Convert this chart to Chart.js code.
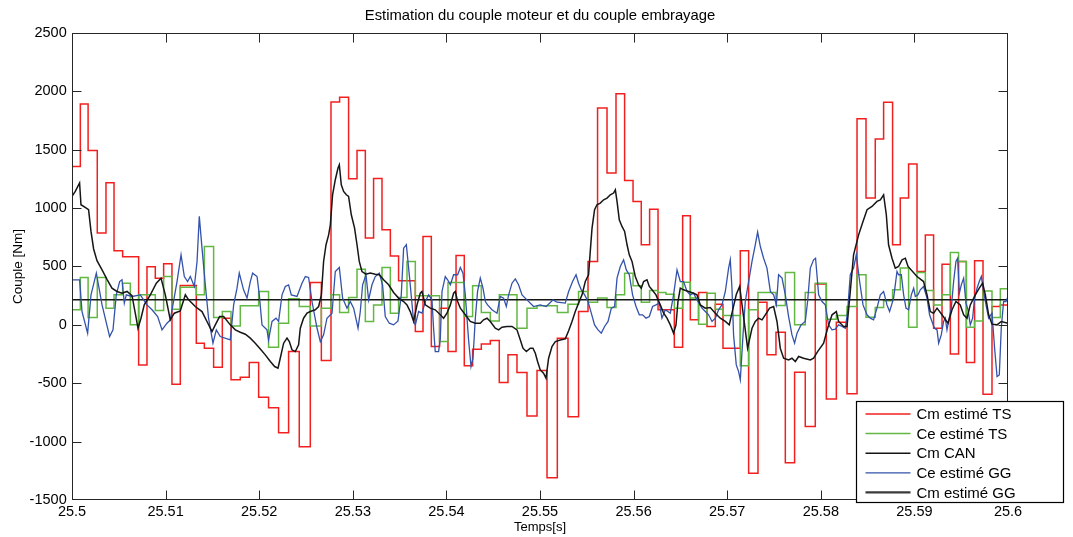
<!DOCTYPE html>
<html>
<head>
<meta charset="utf-8">
<script src="https://cdn.jsdelivr.net/npm/chart.js@4.4.1/dist/chart.umd.min.js"></script>
<style>
    html, body { margin: 0; padding: 0; background: #fff; }
</style>
</head>
<body>
<canvas id="couple" width="1073" height="537"></canvas>
<script>
// step instants of the TS estimator (s) and the two TS estimates (Nm)
const tsTime = [25.5, 25.50089, 25.50172, 25.5027, 25.50363, 25.50449, 25.50541, 25.50623, 25.50712, 25.50801,
    25.5089, 25.50979, 25.51068, 25.51157, 25.51328, 25.51414, 25.51513, 25.51606, 25.51699, 25.51798,
    25.51894, 25.51994, 25.521, 25.52207, 25.52314, 25.52428, 25.52546, 25.52664, 25.52767, 25.52859,
    25.52955, 25.53045, 25.53134, 25.53222, 25.53312, 25.53401, 25.53489, 25.53579, 25.53668, 25.5375,
    25.53839, 25.53927, 25.54017, 25.54103, 25.54191, 25.5428, 25.54373, 25.54469, 25.54565, 25.54658,
    25.54754, 25.54861, 25.54968, 25.55075, 25.55185, 25.55299, 25.55412, 25.55513, 25.55615, 25.55716,
    25.55812, 25.55904, 25.55994, 25.56082, 25.56171, 25.56261, 25.56346, 25.56435, 25.56524, 25.56606,
    25.56694, 25.56784, 25.56873, 25.56955, 25.57051, 25.5714, 25.57229, 25.57329, 25.57425, 25.57521,
    25.57621, 25.5772, 25.57834, 25.57941, 25.58059, 25.58166, 25.5828, 25.58387, 25.58483, 25.58582,
    25.58671, 25.58767, 25.58849, 25.58938, 25.59028, 25.59117, 25.59205, 25.59295, 25.59384, 25.59472,
    25.59555, 25.59643, 25.59733, 25.59829, 25.59918, 25.6];
const cmTS = [1357, 1891, 1494, 786, 1217, 634, 583, 583, -343, 497,
    400, 523, -509, 337, -157, -200, -363, 57, -471, -449,
    -323, -620, -709, -923, -229, -1043, 363, -306, 1909, 1949,
    1251, 1494, 743, 1254, 814, 589, 377, 377, -57, 757,
    -186, 143, -229, 594, -351, -209, -163, -134, -494, -257,
    -409, -780, -391, -1309, -115, -786, 114, 543, 1857, 1300,
    1980, 1237, 1057, 686, 991, 129, 129, -191, 934, 43,
    277, -14, 177, -200, -200, 634, -1271, 194, -257, -63,
    -1180, -406, -871, 349, -634, 23, -591, 1766, 1086, 1591,
    1906, 686, 1086, 1377, 457, 769, -29, 520, -249, 543,
    -323, 549, -594, 157, 171, -157];
const ceTS = [129, 406, 63, 406, 143, 257, 357, 0, 257, 257,
    123, 414, 134, 323, 257, 671, 63, 114, -9, 163,
    163, 286, -191, 14, 223, 157, -9, 143, 257, 106,
    234, 477, 29, 171, 491, 100, 234, 543, 249, 249,
    249, -143, 363, 363, 71, 334, 106, 34, 257, 257,
    -29, 143, 163, 163, 106, 177, 286, 194, 229, 149,
    257, 443, 334, 194, 294, 277, 263, 143, 366, 229,
    6, 271, 134, 80, 80, -351, 129, 277, 277, 166,
    449, 0, 277, 357, 49, 80, 157, 429, 66, 149,
    206, 300, 486, -20, 449, 294, 171, 257, 620, 543,
    -20, 34, 291, 63, 309, 457];

// GG estimator, Ce
const ceGGTime = [25.5, 25.50081, 25.50107, 25.50167, 25.50203, 25.5026, 25.50321, 25.50402, 25.50438, 25.50473,
    25.50509, 25.50534, 25.50559, 25.5058, 25.50641, 25.5073, 25.50801, 25.50855, 25.50915, 25.50962,
    25.51015, 25.5105, 25.51122, 25.51165, 25.512, 25.51235, 25.51264, 25.51307, 25.51336, 25.5136,
    25.51389, 25.51424, 25.51459, 25.51506, 25.51542, 25.51584, 25.51691, 25.51727, 25.51763, 25.51787,
    25.51833, 25.5187, 25.51905, 25.5193, 25.51977, 25.52001, 25.5203, 25.52083, 25.521, 25.52137,
    25.5218, 25.52207, 25.52244, 25.52279, 25.52314, 25.52343, 25.52404, 25.52457, 25.52493, 25.52528,
    25.52564, 25.52618, 25.52653, 25.52688, 25.52724, 25.52778, 25.52813, 25.52856, 25.52891, 25.52938,
    25.52973, 25.53009, 25.53056, 25.5308, 25.53105, 25.53141, 25.53169, 25.53205, 25.5324, 25.53283,
    25.53318, 25.53347, 25.5339, 25.53436, 25.53483, 25.53518, 25.53543, 25.53572, 25.53607, 25.5365,
    25.53668, 25.53703, 25.53739, 25.53775, 25.5381, 25.53846, 25.53863, 25.53881, 25.53917, 25.53935,
    25.53953, 25.53988, 25.54013, 25.54042, 25.54077, 25.5412, 25.54149, 25.54177, 25.54202, 25.54237,
    25.54263, 25.54284, 25.54309, 25.54333, 25.54362, 25.54391, 25.54416, 25.5444, 25.54487, 25.54541,
    25.54576, 25.54611, 25.5464, 25.54665, 25.54701, 25.54736, 25.54771, 25.54808, 25.54861, 25.54932,
    25.55003, 25.55067, 25.55139, 25.55182, 25.5527, 25.55306, 25.55348, 25.55385, 25.55412, 25.55441,
    25.55477, 25.55513, 25.55548, 25.55583, 25.5562, 25.55655, 25.5569, 25.55727, 25.55762, 25.55797,
    25.55823, 25.55858, 25.55893, 25.55922, 25.55954, 25.55989, 25.56026, 25.56061, 25.56096, 25.56133,
    25.56168, 25.56203, 25.56239, 25.56275, 25.56303, 25.56339, 25.56392, 25.56427, 25.56464, 25.56499,
    25.56534, 25.56571, 25.56606, 25.56641, 25.56677, 25.56731, 25.56766, 25.56801, 25.56838, 25.56873,
    25.56908, 25.56944, 25.5698, 25.57015, 25.57033, 25.57051, 25.57068, 25.57097, 25.57122, 25.5714,
    25.57169, 25.57193, 25.57229, 25.57265, 25.573, 25.57325, 25.57354, 25.57389, 25.57425, 25.57461,
    25.57496, 25.57525, 25.57549, 25.57586, 25.57621, 25.57656, 25.57692, 25.5772, 25.57746, 25.57789,
    25.57834, 25.57859, 25.57888, 25.57923, 25.57944, 25.57977, 25.58013, 25.58048, 25.58083, 25.5812,
    25.58155, 25.5819, 25.58227, 25.58262, 25.58286, 25.58315, 25.5835, 25.58379, 25.58415, 25.58451,
    25.58494, 25.58529, 25.58564, 25.586, 25.58636, 25.58671, 25.58707, 25.58735, 25.58778, 25.58814,
    25.58831, 25.5886, 25.58885, 25.5891, 25.58938, 25.58967, 25.58992, 25.5901, 25.59038, 25.59063,
    25.59098, 25.59135, 25.59162, 25.59194, 25.59216, 25.59242, 25.59259, 25.59287, 25.59312, 25.5933,
    25.59348, 25.59365, 25.59394, 25.59419, 25.59444, 25.59462, 25.5948, 25.59501, 25.59526, 25.59551,
    25.59573, 25.59597, 25.59622, 25.59643, 25.59669, 25.59693, 25.59715, 25.59739, 25.59765, 25.59793,
    25.59829, 25.59857, 25.59883, 25.59907, 25.59928, 25.59953, 25.59979, 25.6];
const ceGG = [386, 386, 114, -71, 257, 443, 171, -100, -43, 257,
    371, 386, 186, 257, 243, 257, 171, 129, 71, -43,
    14, 43, 371, 600, 414, 371, 414, 329, 543, 929,
    657, 343, 57, -157, -43, -100, -129, 171, 314, 443,
    300, 229, 371, 443, 414, 257, 0, -43, -129, 29,
    57, 29, 257, 329, 343, 257, 243, 357, 414, 406,
    200, -29, -143, -86, 57, 100, 457, 491, 229, 143,
    200, 143, -29, 114, 343, 429, 214, 343, 414, 443,
    343, 71, 14, 0, 34, 257, 657, 686, 400, 29,
    0, 114, 100, 200, 257, 214, -29, -229, -229, -114,
    286, 414, 386, 343, 429, 429, 491, 443, 257, -129,
    -357, -286, 57, 286, 400, 314, 200, 171, 129, 100,
    243, 229, 157, 257, 357, 394, 343, 257, 214, 157,
    171, 157, 214, 194, 186, 286, 371, 429, 357, 300,
    257, 200, 100, 0, -43, -71, -14, 29, 143, 157,
    400, 500, 557, 471, 429, 257, 157, 86, 86, 57,
    71, 157, 171, 186, 57, 129, 100, 257, 471, 371,
    371, 286, 257, 271, 214, 143, 114, 86, 29, 57,
    129, 171, 286, 486, 557, 314, -86, -343, -400, -471,
    -86, 200, 371, 543, 686, 794, 671, 571, 486, 286,
    257, 171, 429, 400, 257, 71, -86, -157, -71, 0,
    29, 200, 486, 557, 571, 257, 200, 171, 0, -43,
    -37, 0, -14, -29, 114, 429, 486, 600, 371, 171,
    86, 57, 43, 143, 257, 286, 171, 114, 229, 457,
    429, 429, 257, 143, 129, 257, 314, 243, 257, 300,
    329, 229, 86, 14, -29, -43, -157, -86, 29, 57,
    -43, 29, 143, 371, 543, 571, 271, 343, 400, 186,
    129, 0, 57, 229, 314, 371, 414, 286, 171, 57,
    100, -200, -443, -429, -29, 200, 200, 243];

// GG estimator, Cm
const cmGGTime = [25.5, 25.50035, 25.50081, 25.50096, 25.50153, 25.50177, 25.50203, 25.50231, 25.50267, 25.50321,
    25.50374, 25.50427, 25.50481, 25.50534, 25.50588, 25.50641, 25.50676, 25.50705, 25.50737, 25.50772,
    25.50837, 25.50901, 25.50951, 25.50997, 25.5105, 25.51093, 25.51157, 25.51211, 25.51246, 25.51317,
    25.51389, 25.51442, 25.51496, 25.51531, 25.51577, 25.5162, 25.51691, 25.51745, 25.51798, 25.51852,
    25.51905, 25.51958, 25.52012, 25.52065, 25.52119, 25.52165, 25.52201, 25.52225, 25.52261, 25.52297,
    25.52322, 25.5235, 25.52386, 25.52421, 25.52439, 25.52474, 25.52511, 25.52546, 25.52599, 25.52635,
    25.52664, 25.52688, 25.52714, 25.52742, 25.5276, 25.52784, 25.52813, 25.52842, 25.52856, 25.52877,
    25.52902, 25.52931, 25.52955, 25.52984, 25.53019, 25.53045, 25.53069, 25.53098, 25.53141, 25.53187,
    25.5324, 25.53283, 25.53329, 25.53383, 25.53436, 25.53489, 25.53543, 25.53579, 25.53614, 25.5365,
    25.53686, 25.53721, 25.53739, 25.53775, 25.53828, 25.53881, 25.53935, 25.5397, 25.54006, 25.54042,
    25.54077, 25.54095, 25.5412, 25.54149, 25.54202, 25.54255, 25.54309, 25.54362, 25.54397, 25.54434,
    25.54469, 25.54522, 25.54558, 25.54594, 25.54647, 25.54701, 25.54754, 25.5479, 25.54818, 25.54854,
    25.54896, 25.54925, 25.5495, 25.54974, 25.55003, 25.55038, 25.55064, 25.55092, 25.55128, 25.55164,
    25.55217, 25.5527, 25.55306, 25.55342, 25.55377, 25.55412, 25.55449, 25.55484, 25.55519, 25.55537,
    25.55556, 25.55583, 25.55609, 25.55644, 25.5568, 25.55716, 25.55751, 25.55786, 25.55805, 25.55823,
    25.55847, 25.55876, 25.55904, 25.5593, 25.55954, 25.55983, 25.56018, 25.56053, 25.56082, 25.56107,
    25.56143, 25.56168, 25.56197, 25.56239, 25.56285, 25.56321, 25.56357, 25.56392, 25.56427, 25.56453,
    25.56474, 25.56499, 25.56534, 25.56588, 25.56641, 25.56677, 25.56713, 25.56766, 25.56819, 25.56873,
    25.56926, 25.5698, 25.57022, 25.57065, 25.57097, 25.57133, 25.57218, 25.57265, 25.573, 25.57336,
    25.57372, 25.57407, 25.57453, 25.57496, 25.57532, 25.57567, 25.57603, 25.57656, 25.57692, 25.57728,
    25.57763, 25.57816, 25.57888, 25.57923, 25.57966, 25.5803, 25.58073, 25.5812, 25.58166, 25.5819,
    25.58244, 25.5828, 25.58315, 25.5835, 25.58404, 25.58451, 25.58494, 25.58547, 25.586, 25.58636,
    25.58671, 25.587, 25.58724, 25.58761, 25.58796, 25.58831, 25.58868, 25.58903, 25.58932, 25.59028,
    25.59098, 25.59135, 25.5917, 25.59205, 25.59242, 25.59295, 25.59359, 25.59402, 25.59444, 25.5949,
    25.59526, 25.59562, 25.59597, 25.59651, 25.59693, 25.59729, 25.59758, 25.59793, 25.59829, 25.59883,
    25.59928, 25.6];
const cmGG = [1100, 1143, 1215, 1029, 1000, 986, 800, 650, 550, 471,
    390, 314, 286, 271, 286, 250, 100, -29, 57, 171,
    257, 357, 400, 257, 43, 100, 120, 257, 214, 157,
    114, 29, -57, 0, 71, 71, 0, -43, -63, -80,
    -114, -157, -206, -257, -314, -357, -371, -286, -157, -114,
    -143, -214, -229, -171, -29, 57, 100, 114, 129, 157,
    257, 543, 686, 771, 857, 1114, 1243, 1343, 1371, 1200,
    1143, 1114, 1100, 943, 829, 686, 543, 457, 434, 443,
    434, 429, 386, 343, 277, 229, 200, 171, 114, 29,
    171, 271, 286, 171, 143, 129, 86, 57, 100, 171,
    271, 286, 200, 143, 86, 29, 14, 14, 43, 57,
    29, -29, -43, -20, -14, -14, -43, -129, -200, -229,
    -200, -200, -243, -314, -386, -414, -457, -286, -186, -143,
    -129, -120, -50, 29, 114, 186, 257, 371, 429, 629,
    829, 986, 1029, 1043, 1071, 1086, 1114, 1129, 1157, 1057,
    900, 843, 800, 686, 600, 543, 414, 343, 314, 371,
    386, 329, 300, 257, 171, 100, 57, 0, -71, 0,
    200, 314, 300, 286, 271, 257, 171, 143, 149, 100,
    57, 29, 0, 150, 260, 329, -200, -29, 29, 57,
    43, 86, 143, 157, 29, -200, -286, -300, -286, -314,
    -271, -286, -300, -286, -229, -157, -29, 86, 114, 29,
    -14, -14, 286, 600, 771, 886, 986, 1014, 1057, 1071,
    1114, 943, 686, 571, 486, 500, 557, 571, 500, 414,
    371, 257, 114, 100, 143, 86, 14, 129, 200, 171,
    86, 57, 171, 257, 314, 357, 257, 86, 6, 0,
    29, 14];

// CAN value, constant over the window
const canTime = [25.5, 25.6];
const cmCAN = [215, 215];

// axis ticks
const xTicks = [25.5, 25.51, 25.52, 25.53, 25.54, 25.55, 25.56, 25.57, 25.58, 25.59, 25.6];
const yTicks = [-1500, -1000, -500, 0, 500, 1000, 1500, 2000, 2500];

const FONT = '"Liberation Sans", Arial, sans-serif';

function toPoints(times, values) {
    return times.map((t, i) => ({x: t, y: values[i]}));
}

// MATLAB style box, inward ticks and legend
const matlabAxes = {
    id: 'matlabAxes',
    afterDatasetsDraw(chart) {
        const ctx = chart.ctx;
        const ca = chart.chartArea;
        const xs = chart.scales.x, ys = chart.scales.y;
        const L = Math.round(ca.left) + 0.5, R = Math.round(ca.right) - 0.5;
        const T = Math.round(ca.top) + 0.5, B = Math.round(ca.bottom) - 0.5;
        ctx.save();
        ctx.strokeStyle = '#262626';
        ctx.lineWidth = 1;
        ctx.beginPath();
        xTicks.forEach(v => {
            let px = Math.round(xs.getPixelForValue(v)) + 0.5;
            px = Math.min(Math.max(px, L), R);
            ctx.moveTo(px, T); ctx.lineTo(px, T + 9);
            ctx.moveTo(px, B); ctx.lineTo(px, B - 9);
        });
        yTicks.forEach(v => {
            let py = Math.round(ys.getPixelForValue(v)) + 0.5;
            py = Math.min(Math.max(py, T), B);
            ctx.moveTo(L, py); ctx.lineTo(L + 9, py);
            ctx.moveTo(R, py); ctx.lineTo(R - 9, py);
        });
        ctx.stroke();
        ctx.strokeRect(L, T, R - L, B - T);
        ctx.restore();
    },
    afterDraw(chart) {
        const ctx = chart.ctx;
        const ca = chart.chartArea;
        const bx = Math.round(ca.right - 152) + 0.5;
        const by = Math.round(ca.bottom - 99) + 0.5;
        const bw = 207, bh = 101;
        ctx.save();
        ctx.fillStyle = '#fff';
        ctx.fillRect(bx, by, bw, bh);
        ctx.strokeStyle = '#000';
        ctx.lineWidth = 1.2;
        ctx.strokeRect(bx, by, bw, bh);
        ctx.font = '15px ' + FONT;
        ctx.textBaseline = 'middle';
        ctx.textAlign = 'left';
        chart.data.datasets.forEach((ds, i) => {
            const y = by + 12.5 + i * 19.6;
            ctx.strokeStyle = ds.legendColor || ds.borderColor;
            ctx.lineWidth = ds.legendWidth || ds.borderWidth;
            ctx.beginPath();
            ctx.moveTo(bx + 9, y);
            ctx.lineTo(bx + 54, y);
            ctx.stroke();
            ctx.fillStyle = '#000';
            ctx.fillText(ds.label, bx + 60, y + 1);
        });
        ctx.restore();
    }
};

new Chart(document.getElementById('couple'), {
    type: 'line',
    data: {
        datasets: [
            {
                label: 'Cm estimé TS',
                data: toPoints(tsTime, cmTS),
                borderColor: '#f21f1f',
                borderWidth: 1.5,
                stepped: true,
                order: 5
            },
            {
                label: 'Ce estimé TS',
                data: toPoints(tsTime, ceTS),
                borderColor: '#62b842',
                borderWidth: 1.5,
                stepped: true,
                order: 4
            },
            {
                label: 'Cm CAN',
                data: toPoints(canTime, cmCAN),
                borderColor: '#151515',
                borderWidth: 1.4,
                order: 3
            },
            {
                label: 'Ce estimé GG',
                data: toPoints(ceGGTime, ceGG),
                borderColor: '#3352ab',
                borderWidth: 1.3,
                order: 2
            },
            {
                label: 'Cm estimé GG',
                data: toPoints(cmGGTime, cmGG),
                borderColor: '#161616',
                borderWidth: 1.5,
                legendColor: '#3a3a3a',
                legendWidth: 2.2,
                order: 1
            }
        ]
    },
    options: {
        responsive: false,
        animation: false,
        devicePixelRatio: 1,
        layout: {padding: {left: 0, right: 65, top: 0, bottom: 0}},
        elements: {
            point: {radius: 0, hoverRadius: 0},
            line: {tension: 0, fill: false}
        },
        plugins: {
            legend: {display: false},
            tooltip: {enabled: false},
            title: {
                display: true,
                fullSize: false,
                text: 'Estimation du couple moteur et du couple embrayage',
                color: '#000',
                font: {family: FONT, size: 14.8, weight: 'normal'},
                padding: {top: 7.5, bottom: 7.7}
            }
        },
        scales: {
            x: {
                type: 'linear',
                min: 25.5,
                max: 25.6,
                afterBuildTicks: s => { s.ticks = xTicks.map(v => ({value: v})); },
                afterFit: s => { s.height = 37; },
                grid: {display: false, drawTicks: false},
                border: {display: false},
                ticks: {
                    color: '#000',
                    font: {family: FONT, size: 14.5},
                    padding: 3.5,
                    maxRotation: 0,
                    autoSkip: false,
                    callback: v => String(parseFloat(Number(v).toFixed(2)))
                },
                title: {
                    display: true,
                    text: 'Temps[s]',
                    color: '#000',
                    font: {family: FONT, size: 13},
                    padding: {top: 0, bottom: 1.9}
                }
            },
            y: {
                min: -1500,
                max: 2500,
                afterBuildTicks: s => { s.ticks = yTicks.map(v => ({value: v})); },
                afterFit: s => { s.width = 72; },
                grid: {display: false, drawTicks: false},
                border: {display: false},
                ticks: {
                    color: '#000',
                    font: {family: FONT, size: 14.5},
                    padding: 5.3,
                    callback: v => String(v)
                },
                title: {
                    display: true,
                    text: 'Couple [Nm]',
                    color: '#000',
                    font: {family: FONT, size: 13.5},
                    padding: {top: 10.5, bottom: 0}
                }
            }
        }
    },
    plugins: [matlabAxes]
});
</script>
</body>
</html>
